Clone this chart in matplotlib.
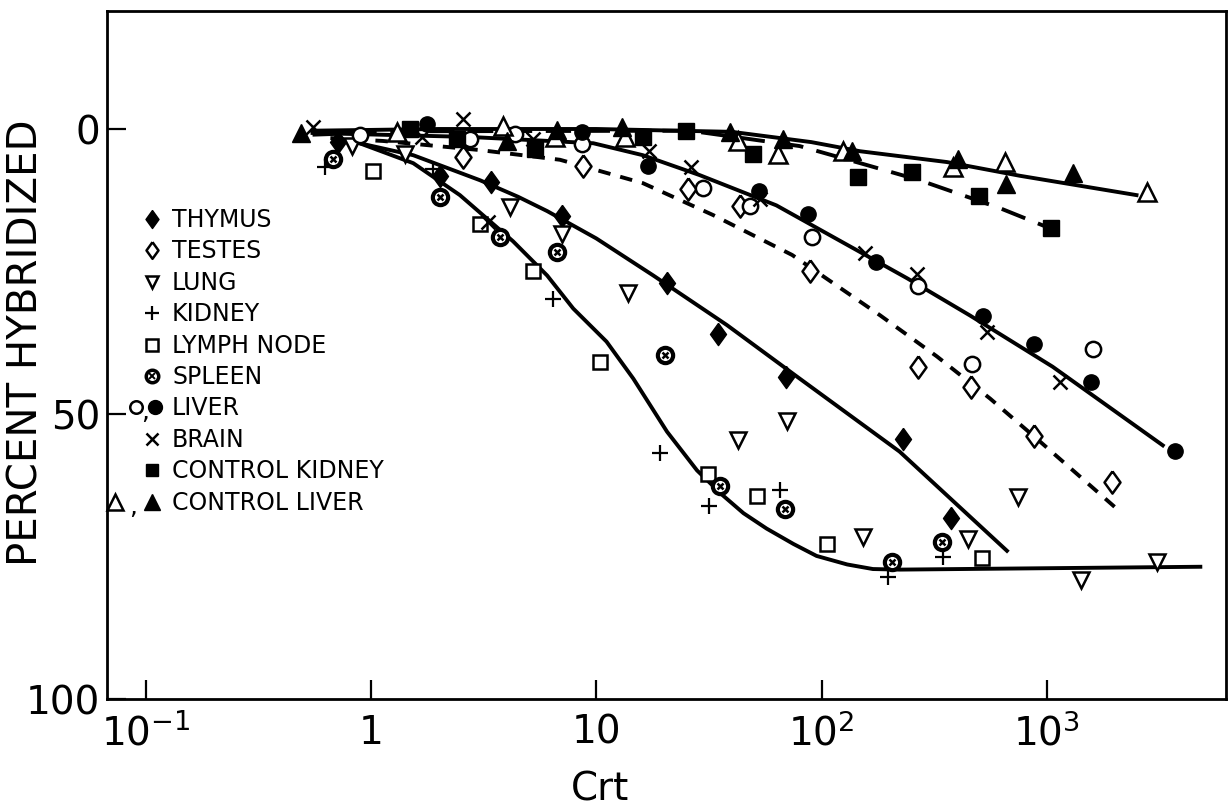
import numpy as np
import matplotlib
matplotlib.use("Agg")
import matplotlib.pyplot as plt
from matplotlib.lines import Line2D

plt.rcParams['font.family'] = ['DejaVu Sans']
plt.rcParams['mathtext.default'] = 'regular'

# ---- data (Crt, percent hybridized) ----
thymus_x = [0.71, 2.02, 3.41, 7.05, 20.6, 34.7, 69.5, 230, 375]
thymus_y = [2.3, 8.2, 9.3, 15.3, 27.0, 36.0, 43.5, 54.4, 68.2]

testes_x = [2.56, 8.73, 25.5, 43.4, 88.9, 268, 460, 877, 1945]
testes_y = [4.9, 6.5, 10.5, 13.5, 24.9, 41.8, 45.3, 53.9, 61.9]

lung_x = [0.82, 1.42, 4.14, 7.05, 13.8, 42.6, 70.2, 153, 446, 745, 1416, 3080]
lung_y = [3.0, 4.4, 13.7, 18.4, 28.8, 54.6, 51.2, 71.6, 71.9, 64.6, 79.1, 76.0]

kidney_x = [0.625, 1.88, 6.42, 19.2, 31.6, 65.3, 197, 346]
kidney_y = [6.7, 7.0, 29.8, 56.8, 66.1, 63.3, 78.6, 75.1]

lymph_x = [1.02, 3.05, 5.24, 10.4, 31.3, 51.7, 106, 515]
lymph_y = [7.4, 16.7, 24.9, 40.9, 60.5, 64.4, 72.8, 75.3]

spleen_x = [0.68, 2.02, 3.74, 6.69, 20.2, 35.4, 68.8, 205, 342]
spleen_y = [5.3, 11.9, 18.9, 21.6, 39.6, 62.6, 66.7, 76.0, 72.5]

liver_o_x = [0.89, 2.75, 4.36, 8.65, 29.8, 48.1, 90.6, 268, 465, 1602]
liver_o_y = [1.05, 1.75, 0.9, 2.6, 10.4, 13.5, 18.9, 27.5, 41.2, 38.6]

liver_f_x = [1.77, 8.65, 17.0, 52.7, 87.1, 174, 520, 877, 1570, 3700]
liver_f_y = [-0.9, 0.5, 6.5, 10.9, 14.9, 23.3, 32.8, 37.7, 44.4, 56.5]

brain_x = [0.55, 1.68, 2.56, 3.30, 5.24, 17.1, 26.3, 53.3, 156, 265, 542, 1143]
brain_y = [-0.35, 1.4, -1.8, 16.3, 1.75, 3.9, 6.7, 12.3, 21.8, 25.4, 35.6, 44.4]

ckidney_x = [1.49, 2.41, 5.35, 16.1, 25.0, 49.6, 145, 252, 500, 1043]
ckidney_y = [0, 1.75, 3.5, 1.4, 0.35, 4.4, 8.4, 7.5, 11.8, 17.4]

cliver_o_x = [1.30, 3.85, 6.56, 13.4, 42.6, 64.0, 124, 383, 652, 2780]
cliver_o_y = [0.5, -0.5, 1.4, 1.4, 2.1, 4.4, 3.9, 6.7, 5.8, 11.1]

cliver_f_x = [0.49, 4.02, 6.69, 13.0, 39.2, 67.4, 136, 403, 658, 1306]
cliver_f_y = [0.7, 2.1, 0.2, -0.35, 0.5, 1.75, 3.9, 5.3, 9.6, 7.7]

# hand-drawn curves
cl_curve_x = [0.55, 2, 10, 40, 90, 148, 360, 757, 2500]
cl_curve_y = [0.3, 0, 0, 0.5, 2.3, 3.9, 5.8, 8.2, 11.6]

ck_curve_x = [0.55, 1.5, 26, 80, 158, 273, 620, 1000]
ck_curve_y = [1.0, 0.4, 0.3, 3.0, 6.3, 9.0, 13.9, 17.2]

lv_curve_x = [0.55, 2.75, 9.7, 16.1, 28.8, 63, 138, 240, 455, 1060, 3270]
lv_curve_y = [0.7, 1.4, 2.5, 4.6, 8.1, 13.4, 20.9, 26.2, 32.7, 41.7, 55.5]

ts_curve_x = [0.66, 1.13, 3.05, 6.9, 16.1, 33, 74, 182, 325, 560, 930, 2040]
ts_curve_y = [1.6, 2.1, 3.7, 5.4, 9.5, 15.1, 22.1, 32.7, 39.9, 47.3, 54.8, 66.6]

th_curve_x = [0.89, 1.54, 3.05, 4.5, 6.05, 10, 17.9, 38, 80, 222, 665]
th_curve_y = [2.5, 4.6, 9.0, 11.9, 14.4, 19.2, 25.7, 34.4, 43.8, 56.6, 74.0]

fast_curve_x = [0.89, 1.54, 2.48, 4.27, 6.05, 7.9, 11.1, 14.6, 20.6, 28, 36.5,
                45, 57, 75, 95, 130, 169, 222, 4800]
fast_curve_y = [2.5, 6.0, 11.6, 19.7, 25.7, 31.5, 37.3, 43.8, 53.1, 59.9, 64.3,
                67.4, 70.1, 72.8, 74.9, 76.4, 77.2, 77.3, 76.8]

legend_labels = ['THYMUS', 'TESTES', 'LUNG', 'KIDNEY', 'LYMPH NODE', 'SPLEEN',
                 'LIVER', 'BRAIN', 'CONTROL KIDNEY', 'CONTROL LIVER']

W, H = 1228, 812
fig = plt.figure(figsize=(W / 100, H / 100), dpi=100)
ax = fig.add_axes([107 / W, 1 - 700 / H, (1226 - 107) / W, (700 - 12) / H])

ax.set_xscale('log')
ax.set_xlim(0.0673, 6240)
ax.set_ylim(100, -20.7)

lw = 2.8
ax.plot(cl_curve_x, cl_curve_y, color='k', lw=lw, solid_joinstyle='round')
ax.plot(ck_curve_x, ck_curve_y, color='k', lw=lw, dashes=(6.5, 3.5))
ax.plot(lv_curve_x, lv_curve_y, color='k', lw=lw, solid_joinstyle='round')
ax.plot(ts_curve_x, ts_curve_y, color='k', lw=lw, dashes=(3.2, 2.6))
ax.plot(th_curve_x, th_curve_y, color='k', lw=lw, solid_joinstyle='round')
ax.plot(fast_curve_x, fast_curve_y, color='k', lw=lw, solid_joinstyle='round')

diamond = [(0, 1), (0.72, 0), (0, -1), (-0.72, 0), (0, 1)]

styles = {
    'thymus': dict(marker=diamond, ms=16, mfc='k', mec='k', mew=1),
    'testes': dict(marker=diamond, ms=16, mfc='white', mec='k', mew=1.8),
    'lung': dict(marker='v', ms=12, mfc='white', mec='k', mew=1.8),
    'kidney': dict(marker='+', ms=12, mec='k', mew=1.6),
    'lymph': dict(marker='s', ms=10, mfc='white', mec='k', mew=1.8),
    'liver_o': dict(marker='o', ms=11, mfc='white', mec='k', mew=1.8),
    'liver_f': dict(marker='o', ms=11, mfc='k', mec='k', mew=1),
    'brain': dict(marker='x', ms=10, mec='k', mew=1.8),
    'ckidney': dict(marker='s', ms=11, mfc='k', mec='k', mew=1),
    'cliver_o': dict(marker='^', ms=13, mfc='white', mec='k', mew=1.8),
    'cliver_f': dict(marker='^', ms=13, mfc='k', mec='k', mew=1),
}


def pts(x, y, key):
    ax.plot(x, y, ls='none', clip_on=False, **styles[key])


pts(thymus_x, thymus_y, 'thymus')
pts(testes_x, testes_y, 'testes')
pts(lung_x, lung_y, 'lung')
pts(kidney_x, kidney_y, 'kidney')
pts(lymph_x, lymph_y, 'lymph')
ax.plot(spleen_x, spleen_y, ls='none', marker='o', ms=11, mfc='white', mec='k', mew=3.0)
ax.plot(spleen_x, spleen_y, ls='none', marker='x', ms=5, mec='k', mew=1.8)
pts(liver_o_x, liver_o_y, 'liver_o')
pts(liver_f_x, liver_f_y, 'liver_f')
pts(brain_x, brain_y, 'brain')
pts(ckidney_x, ckidney_y, 'ckidney')
pts(cliver_o_x, cliver_o_y, 'cliver_o')
pts(cliver_f_x, cliver_f_y, 'cliver_f')

# axes styling
for s in ax.spines.values():
    s.set_linewidth(2.0)
ax.set_xticks([0.1, 1, 10, 100, 1000])
ax.set_xticklabels([r'$10^{-1}$', '1', '10', r'$10^{2}$', r'$10^{3}$'])
ax.xaxis.set_minor_locator(matplotlib.ticker.NullLocator())
ax.set_yticks([0, 50, 100])
ax.set_yticklabels(['0', '50', '100'])
ax.tick_params(direction='in', length=14, width=1.6, labelsize=28, pad=10)
ax.tick_params(axis='y', pad=5)

fig.text(600 / W, 1 - 790 / H, 'Crt', fontsize=28, ha='center', va='center')
fig.text(27 / W, 1 - 343 / H, 'PERCENT HYBRIDIZED', fontsize=29,
         rotation=90, ha='center', va='center')


# legend drawn by hand as in the original
def fpos(px, py):
    return px / W, 1 - py / H


row_y = [220 + 31.4 * i for i in range(len(legend_labels))]
leg_marks = [
    [('thymus', 152)],
    [('testes', 152)],
    [('lung', 152)],
    [('kidney', 152)],
    [('lymph', 152)],
    [('spleen', 152)],
    [('liver_o', 136), ('liver_f', 155)],
    [('brain', 152)],
    [('ckidney', 152)],
    [('cliver_o', 115), ('cliver_f', 152)],
]
small = {'thymus': 13, 'testes': 12, 'lung': 9, 'kidney': 10, 'lymph': 8,
         'liver_o': 9, 'liver_f': 10, 'brain': 8, 'ckidney': 9,
         'cliver_o': 11, 'cliver_f': 11}

for lab, ry, marks in zip(legend_labels, row_y, leg_marks):
    for key, mx in marks:
        fx, fy = fpos(mx, ry)
        if key == 'spleen':
            fig.add_artist(Line2D([fx], [fy], ls='none', marker='o', ms=9,
                                  mfc='white', mec='k', mew=2.5))
            fig.add_artist(Line2D([fx], [fy], ls='none', marker='x', ms=4,
                                  mec='k', mew=1.4))
        else:
            st = dict(styles[key])
            st['ms'] = small[key]
            fig.add_artist(Line2D([fx], [fy], ls='none', **st))
    if len(marks) == 2:
        cx = (marks[0][1] + marks[1][1]) / 2
        fx, fy = fpos(cx, ry + 4)
        fig.text(fx, fy, ',', fontsize=18, ha='center', va='center')
    fx, fy = fpos(172, ry)
    fig.text(fx, fy, lab, fontsize=17, ha='left', va='center')

fig.savefig('out.png', dpi=100)
